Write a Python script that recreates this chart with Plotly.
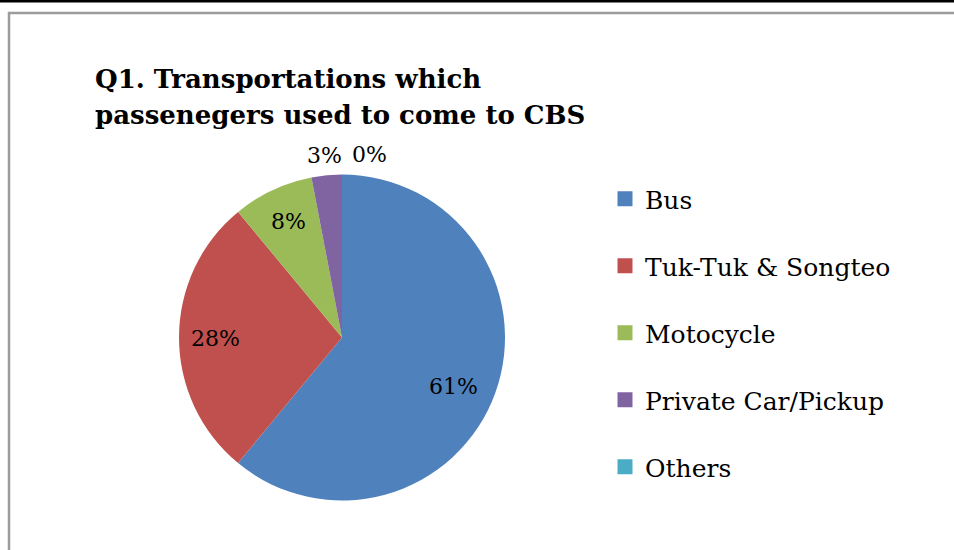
import math
import plotly.graph_objects as go

# Survey shares (percent) of transport modes used to reach CBS
categories = ["Bus", "Tuk-Tuk & Songteo", "Motocycle", "Private Car/Pickup", "Others"]
shares = [61, 28, 8, 3, 0]
colors = ["#4F81BD", "#C0504D", "#9BBB59", "#8064A2", "#4BACC6"]

title_lines = ["Q1. Transportations which", "passenegers used to come to CBS"]

# Canvas and pie geometry (pixels)
W, H = 954, 550
CX, CY, R = 342, 337.5, 163
FONT = "DejaVu Serif"

# Label placement: radial fraction of the radius and a small pixel nudge
label_radius = [0.76, 0.76, 0.76, 1.12, 1.12]
label_dx = [-5, -3, -1, 0, 28]
label_dy = [7, 1, -4, 0, 0]

fig = go.Figure()

fig.add_trace(go.Pie(
    labels=categories,
    values=shares,
    marker=dict(colors=colors, line=dict(width=0)),
    sort=False,
    direction="clockwise",
    rotation=0,
    textinfo="none",
    hoverinfo="label+percent",
    showlegend=False,
    domain=dict(x=[(CX - R) / W, (CX + R) / W],
                y=[(H - CY - R) / H, (H - CY + R) / H]),
))

# Legend entries, one group each so the entries can be spaced apart
for i, (name, col) in enumerate(zip(categories, colors)):
    fig.add_trace(go.Scatter(
        x=[None], y=[None], mode="markers", name=name,
        legendgroup=f"g{i}",
        marker=dict(symbol="square", size=15, color=col),
        hoverinfo="skip",
    ))

# Percentage labels placed at each slice's mid-angle
total = sum(shares)
cum = 0
annotations = []
for v, rf, dx, dy in zip(shares, label_radius, label_dx, label_dy):
    mid = (cum + v / 2) / total * 2 * math.pi
    cum += v
    px = CX + R * rf * math.sin(mid) + dx
    py = CY - R * rf * math.cos(mid) + dy
    annotations.append(dict(
        x=px / W, y=1 - py / H, xref="paper", yref="paper",
        text=f"{round(v / total * 100)}%", showarrow=False,
        xanchor="center", yanchor="middle",
        font=dict(family=FONT, size=22, color="black"),
    ))

# Two-line chart title
for j, line in enumerate(title_lines):
    annotations.append(dict(
        x=93 / W, y=1 - (79 + 36.5 * j) / H, xref="paper", yref="paper",
        text=f"<b>{line}</b>", showarrow=False,
        xanchor="left", yanchor="middle",
        font=dict(family=FONT, size=26, color="black"),
    ))

shapes = [
    # dark strip along the top edge
    dict(type="rect", xref="paper", yref="paper", x0=0, x1=1,
         y0=1 - 2.5 / H, y1=1, fillcolor="black", line=dict(width=0)),
    # chart-area frame
    dict(type="rect", xref="paper", yref="paper",
         x0=9 / W, x1=1.05, y0=-0.05, y1=1 - 13 / H,
         fillcolor="rgba(0,0,0,0)", line=dict(color="#9c9c9c", width=2.5)),
]

fig.update_layout(
    width=W, height=H,
    margin=dict(l=0, r=0, t=0, b=0),
    paper_bgcolor="white", plot_bgcolor="white",
    xaxis=dict(visible=False), yaxis=dict(visible=False),
    font=dict(family=FONT, color="black"),
    showlegend=True,
    legend=dict(
        x=605 / W, y=1 - 176 / H, xanchor="left", yanchor="top",
        font=dict(family=FONT, size=25, color="black"),
        tracegroupgap=31.5, bgcolor="rgba(0,0,0,0)",
        itemclick=False, itemdoubleclick=False,
    ),
    annotations=annotations,
    shapes=shapes,
)

fig.write_html("out.html")
